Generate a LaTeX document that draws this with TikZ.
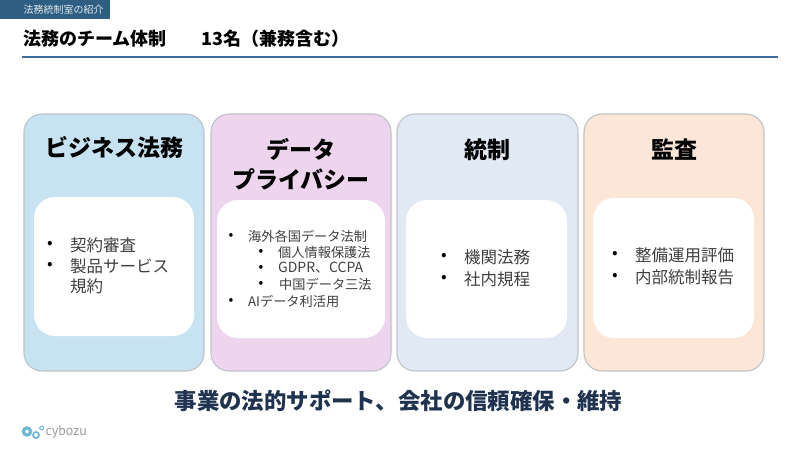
\documentclass[tikz,border=0pt]{standalone}
\usepackage{fontspec}
\setmainfont{Noto Sans CJK JP}
\newfontfamily\logofont{PT Sans}
\definecolor{navy}{HTML}{2E5F82}
\definecolor{rulec}{HTML}{3F6F96}
\definecolor{edgec}{HTML}{BFC3C8}
\definecolor{bluep}{HTML}{C7E3F1}
\definecolor{pinkp}{HTML}{EED5EE}
\definecolor{slatep}{HTML}{E1E9F5}
\definecolor{peachp}{HTML}{FBE6D8}
\definecolor{bodyc}{HTML}{404040}
\definecolor{darkt}{HTML}{1F3350}
\definecolor{logoc}{HTML}{6FB8D4}
\tikzset{
 x=1pt,y=-1pt,
 panel/.style={draw=edgec,line width=1.1pt,rounded corners=18pt},
 inner box/.style={fill=white,rounded corners=21pt},
 head/.style={font=\fontsize{23}{30}\selectfont\bfseries,text=black,align=center,anchor=center},
 lbl/.style={anchor=west,text=bodyc,inner sep=0pt},
 dot/.style={anchor=center,text=black,inner sep=0pt},
}
\newcommand{\bigtxt}{\fontsize{16.5}{16.5}\selectfont}
\newcommand{\smalltxt}{\fontsize{13.2}{14}\selectfont}
\newcommand{\gdprtxt}{\fontsize{14}{14}\selectfont}
\begin{document}
\begin{tikzpicture}
\useasboundingbox (0,0) rectangle (800,450);
\fill[white] (0,0) rectangle (800,450);
% header
\fill[navy] (0,0) rectangle (110,19);
\node[anchor=west,inner sep=0pt,text=white!85!navy,font=\fontsize{10}{10}\selectfont] (crumb) at (23.5,10) {法務統制室の紹介};
\node[anchor=west,inner sep=0pt,font=\fontsize{18}{20}\selectfont\bfseries] (title) at (23,38.5) {法務のチーム体制};
\node[anchor=west,inner sep=0pt,font=\fontsize{18}{20}\selectfont\bfseries] (count) at (201,38.5) {13名（兼務含む）};
\draw[rulec,line width=2pt] (22,56.5) -- (778,56.5);
% panels
\path[panel,fill=bluep] (24,114) rectangle (204,371);
\path[panel,fill=pinkp] (211,114) rectangle (391,371);
\path[panel,fill=slatep] (397,114) rectangle (578,371);
\path[panel,fill=peachp] (584,114) rectangle (764,371);
\path[inner box] (34,197) rectangle (194,336);
\path[inner box] (217,200) rectangle (385,338);
\path[inner box] (406,200) rectangle (567,338);
\path[inner box] (593,198) rectangle (754,338);
% headings
\node[head] (h1) at (114.5,148) {ビジネス法務};
\node[head] (h2) at (301,164) {データ\\プライバシー};
\node[head] (h3) at (487,150) {統制};
\node[head] (h4) at (674,150) {監査};
% panel 1
\node[dot,font=\bigtxt] at (50,245) {•};
\node[dot,font=\bigtxt] at (50,266) {•};
\node[lbl,font=\bigtxt] (a1) at (70,245) {契約審査};
\node[lbl,font=\bigtxt] (a2) at (70,266) {製品サービス};
\node[lbl,font=\bigtxt] (a3) at (70,286) {規約};
% panel 2
\node[dot,font=\gdprtxt] at (231,236) {•};
\node[dot,font=\gdprtxt] at (261,252) {•};
\node[dot,font=\gdprtxt] at (261,268) {•};
\node[dot,font=\gdprtxt] at (261,284) {•};
\node[dot,font=\gdprtxt] at (231,301) {•};
\node[lbl,font=\smalltxt] (b1) at (248,236) {海外各国データ法制};
\node[lbl,font=\smalltxt] (b2) at (278,252) {個人情報保護法};
\node[lbl,font=\gdprtxt] (b3) at (278,268) {GDPR、CCPA};
\node[lbl,font=\smalltxt] (b4) at (279,284) {中国データ三法};
\node[lbl,font=\smalltxt] (b5) at (248,301) {AIデータ利活用};
% panel 3
\node[dot,font=\bigtxt] at (444,257) {•};
\node[dot,font=\bigtxt] at (444,279) {•};
\node[lbl,font=\bigtxt] (c1) at (464,257) {機関法務};
\node[lbl,font=\bigtxt] (c2) at (464,279) {社内規程};
% panel 4
\node[dot,font=\bigtxt] at (615,255) {•};
\node[dot,font=\bigtxt] at (615,277) {•};
\node[lbl,font=\bigtxt] (d1) at (635,255) {整備運用評価};
\node[lbl,font=\bigtxt] (d2) at (635,277) {内部統制報告};
% bottom line
\node[anchor=center,inner sep=0pt,text=darkt,font=\fontsize{22.4}{24}\selectfont\bfseries] (foot) at (398.5,401) {事業の法的サポート、会社の信頼確保・維持};
% logo
\draw[logoc,line width=3.2pt] (27,431.5) circle (3.6);
\draw[logoc,line width=1.8pt] (36,435) circle (3);
\draw[logoc,line width=1pt] (41.7,428) circle (2);
\node[anchor=west,inner sep=0pt,text=gray!75,font=\logofont\fontsize{14}{14}\selectfont] (logo) at (45.5,432.5) {cybozu};
\end{tikzpicture}
\end{document}
